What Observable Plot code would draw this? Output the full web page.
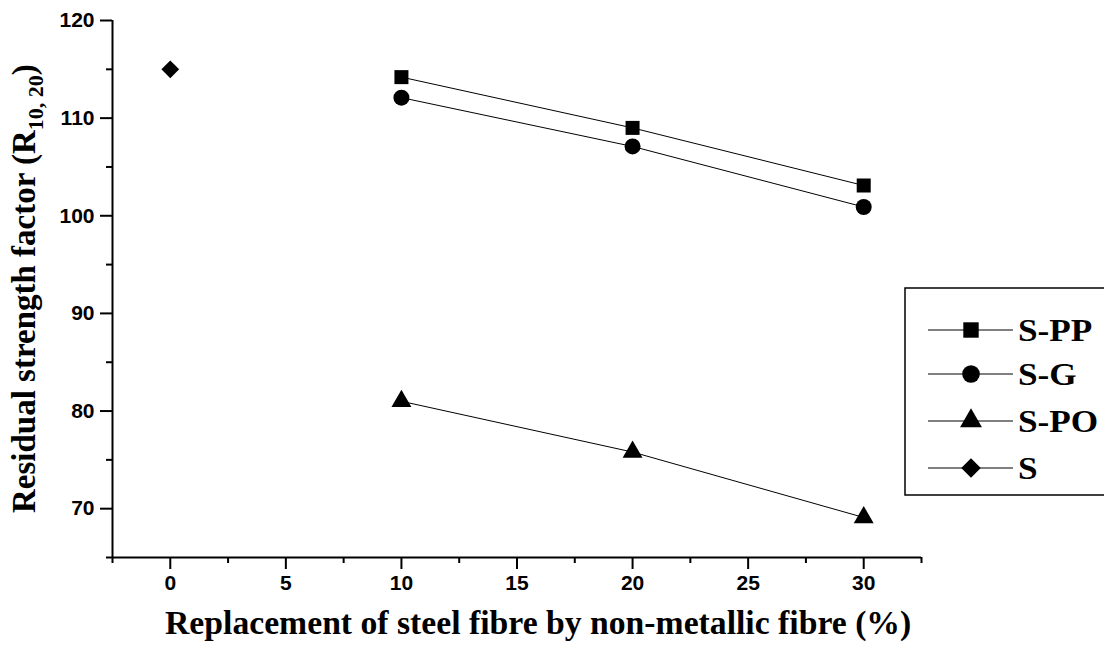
<!DOCTYPE html>
<html>
<head>
<meta charset="utf-8">
<script src="https://cdn.jsdelivr.net/npm/d3@7"></script>
<script src="https://cdn.jsdelivr.net/npm/@observablehq/plot@0.6"></script>
<style>
  html, body { margin: 0; padding: 0; background: #fff; }
  #chart { position: relative; width: 1104px; height: 648px; }
</style>
</head>
<body>
<div id="chart"></div>
<script>
// ---- data ----
const seriesNames = ["S-PP", "S-G", "S-PO", "S"];
const seriesSymbols = ["square", "circle", "triangle", "diamond2"];
const xPP = [10, 20, 30];
const yPP = [114.2, 109.0, 103.1];
const xG = [10, 20, 30];
const yG = [112.1, 107.1, 100.9];
const xPO = [10, 20, 30];
const yPO = [81.0, 75.8, 69.1];
const xS = [0];
const yS = [115.0];
const xMajorTicks = [0, 5, 10, 15, 20, 25, 30];
const xMinorTicks = [-2.5, 2.5, 7.5, 12.5, 17.5, 22.5, 27.5, 32.5];
const yMajorTicks = [70, 80, 90, 100, 110, 120];
const yMinorTicks = [65, 75, 85, 95, 105, 115];
const xTitle = "Replacement of steel fibre by non-metallic fibre (%)";
const yTitleMain = "Residual strength factor (R";
const yTitleSub = "10, 20";
const yTitleEnd = ")";

const xs = [xPP, xG, xPO, xS];
const ys = [yPP, yG, yPO, yS];
const rows = [];
seriesNames.forEach((name, i) => {
  xs[i].forEach((x, j) => rows.push({series: name, x, y: ys[i][j], symbol: seriesSymbols[i]}));
});

const tickFont = {fontFamily: "'Liberation Sans', Arial, sans-serif", fontWeight: "bold", fontSize: "21px"};
const R = {"square": 7.9, "circle": 8, "triangle": 7.4, "diamond2": 8};

const marks = [
  Plot.axisX({ticks: xMinorTicks, tickSize: 6, tickFormat: () => "", strokeWidth: 2, label: null}),
  Plot.axisX({ticks: xMajorTicks, tickSize: 12, tickPadding: 6, strokeWidth: 2, label: null, ...tickFont}),
  Plot.axisY({ticks: yMinorTicks, tickSize: 6, tickFormat: () => "", strokeWidth: 2, label: null}),
  Plot.axisY({ticks: yMajorTicks, tickSize: 12, tickPadding: 6, strokeWidth: 2, label: null, ...tickFont}),
  Plot.ruleY([65], {stroke: "black", strokeWidth: 2}),
  Plot.ruleX([-2.5], {stroke: "black", strokeWidth: 2}),
  Plot.line(rows, {x: "x", y: "y", z: "series", stroke: "black", strokeWidth: 1})
];
seriesSymbols.forEach((s, i) => {
  marks.push(Plot.dot(rows.filter(d => d.series === seriesNames[i]), {x: "x", y: "y", symbol: () => s, r: R[s], fill: "black", stroke: "none"}));
});

const plot = Plot.plot({
  width: 1104,
  height: 648,
  marginLeft: 112,
  marginRight: 183,
  marginTop: 20,
  marginBottom: 91,
  x: {domain: [-2.5, 32.5]},
  y: {domain: [65, 120]},
  symbol: {type: "identity"},
  style: {background: "white", color: "black", overflow: "visible"},
  marks
});
document.getElementById("chart").appendChild(plot);

// titles and legend
const svg = d3.select(plot);
const serif = "'Liberation Serif', 'Times New Roman', serif";

svg.append("text")
  .attr("transform", "translate(165,634)")
  .attr("text-anchor", "start")
  .attr("font-family", serif).attr("font-weight", "bold").attr("font-size", 33.7)
  .attr("fill", "black")
  .text(xTitle);

const yt = svg.append("text")
  .attr("transform", "translate(35,513) rotate(-90)")
  .attr("text-anchor", "start")
  .attr("font-family", serif).attr("font-weight", "bold").attr("font-size", 33)
  .attr("fill", "black");
yt.append("tspan").text(yTitleMain);
yt.append("tspan").attr("font-size", 22).attr("dy", 8).text(yTitleSub);
yt.append("tspan").attr("dy", -8).text(yTitleEnd);

const lg = svg.append("g");
lg.append("rect").attr("x", 905).attr("y", 288).attr("width", 220).attr("height", 207)
  .attr("fill", "white").attr("stroke", "black").attr("stroke-width", 1.5);
const symMap = {square: d3.symbolSquare, circle: d3.symbolCircle, triangle: d3.symbolTriangle, diamond2: d3.symbolDiamond2};
const rowY = [330, 374, 421, 468];
seriesNames.forEach((name, i) => {
  const y = rowY[i];
  lg.append("line").attr("x1", 928).attr("x2", 1013).attr("y1", y).attr("y2", y)
    .attr("stroke", "black").attr("stroke-width", 1);
  const r = R[seriesSymbols[i]] * 1.1;
  lg.append("path").attr("transform", `translate(971,${y})`)
    .attr("d", d3.symbol(symMap[seriesSymbols[i]], Math.PI * r * r)())
    .attr("fill", "black");
  lg.append("text").attr("transform", `translate(1018,${y + 11}) scale(1.1,1)`)
    .attr("text-anchor", "start")
    .attr("font-family", serif).attr("font-weight", "bold").attr("font-size", 32)
    .attr("fill", "black").text(name);
});
</script>
</body>
</html>
